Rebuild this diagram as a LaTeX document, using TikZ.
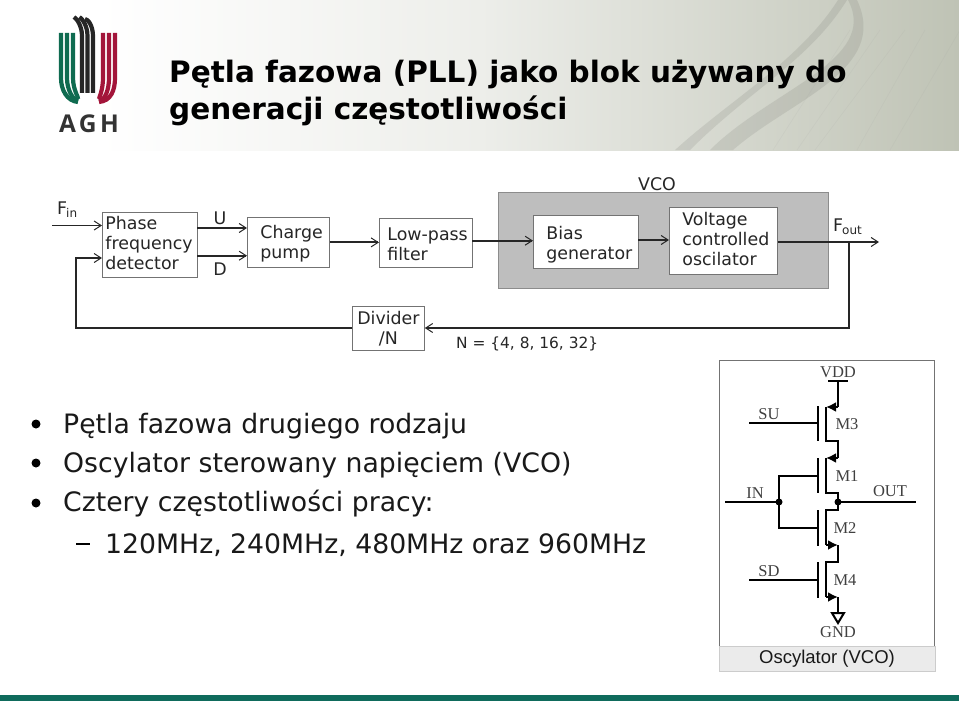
\documentclass[tikz,border=0pt]{standalone}
\usepackage{xcolor}
\usepackage{fontspec}
\usepackage{tikz}
\usetikzlibrary{arrows.meta}
\setmainfont{DejaVu Sans}
\newfontfamily\capfont{Liberation Sans}
\newfontfamily\serfont{Liberation Serif}
\newfontfamily\aghfont[LetterSpace=14]{Open Sans}
\hyphenpenalty=10000
\definecolor{aghgreen}{HTML}{0F6B50}
\definecolor{aghred}{HTML}{A3153A}
\definecolor{barteal}{HTML}{0F6B5C}
\definecolor{vcogray}{HTML}{BEBEBE}
\definecolor{hdrmid}{HTML}{EDEEEA}
\definecolor{hdrend}{HTML}{BFC3B5}
\newcommand{\lowtxt}[1]{\raisebox{-3pt}{\fontsize{12}{12}\selectfont #1}}
\newcommand{\pushdown}[1]{\rule{0pt}{#1pt}}
\newcommand{\pushup}[1]{\rule[-#1pt]{0pt}{#1pt}}

\begin{document}
\begin{tikzpicture}[x=1pt,y=-1pt,
	blockbox/.style={draw=black!55,fill=white,line width=0.8pt,align=left,anchor=north west,inner ysep=0pt,font=\fontsize{17.4}{20}\selectfont,text=black!85},
	blocktxt/.style={font=\fontsize{17.4}{20}\selectfont,text=black!85,inner sep=0pt},
	sigwire/.style={line width=1.9pt,black!85},
	sigarrow/.style={sigwire,-{Straight Barb[length=7pt,width=9pt,line width=1pt]}},
	bodytxt/.style={anchor=base west,inner sep=0pt,font=\fontsize{26.7}{30}\selectfont,text=black!90},
	bulletdot/.style={circle,fill=black,inner sep=0pt,minimum size=9pt},
	mospart/.style={line width=2pt,black},
	mosarrow/.style={mospart,-{Latex[length=10pt,width=10pt]}},
	circtxt/.style={inner sep=0pt,font=\serfont\fontsize{16.5}{16.5}\selectfont,text=black!75},
	logostripe/.style={line width=4.2pt}]
	\useasboundingbox (0,0) rectangle (959,701);
	% header
	\shade [left color=white,right color=hdrmid] (100,0) rectangle (480,150);
	\shade [left color=hdrmid,right color=hdrend] (480,0) rectangle (959,150);
	\fill [black!50!hdrend,opacity=.14] (690,150) .. controls (750,90) and (810,60) .. (847,0) -- (838,0) .. controls (800,60) and (730,100) .. (675,150) -- cycle;
	\fill [black!50!hdrend,opacity=.14] (733,150) .. controls (790,100) and (890,70) .. (857,0) -- (848,0) .. controls (880,60) and (770,90) .. (710,150) -- cycle;
	\foreach \xa/\xb in {773/850,797/880,815/905,857/925,890/960}
		\draw [black!40,opacity=.1,line width=0.6pt] (\xa,150) -- (\xb,30);
	\fill [barteal] (0,695) rectangle (959,701);
	\node (title) [anchor=base west,inner sep=0pt,align=left,font=\bfseries\fontsize{29.5}{37}\selectfont] at (169,119) {Pętla fazowa (PLL) jako blok używany do\\generacji częstotliwości};
	% logo
	\foreach \xa/\yb in {61/102,67/101,73/99}
		\draw [aghgreen,logostripe] (\xa,33) -- (\xa,78) .. controls (\xa,90) and (\xa+6,\yb-1) .. (78,\yb);
	\foreach \xa/\yb in {115/102,109/101,103/99}
		\draw [aghred,logostripe] (\xa,33) -- (\xa,78) .. controls (\xa,90) and (\xa-4,\yb-1) .. (99,\yb);
	\foreach \xa/\ya in {82/17,87.5/17,93/19}
		\draw [black!85,logostripe] (\xa,93) -- (\xa,36) .. controls (\xa,26) and (\xa-5,19) .. (\xa-8,\ya);
	\node (agh) [inner sep=0pt,text=black!80,font=\aghfont\bfseries\fontsize{24.5}{24.5}\selectfont] at (89,124) {AGH};
	% blocks
	\fill [vcogray,draw=black!45] (498,192) rectangle (828,288);
	\node (vcolab) [blocktxt] at (657,184) {VCO};
	\node (pfd) [blockbox,inner xsep=3pt,text width=89pt,minimum height=65pt] at (102,212) {Phase\\frequency\\detector\pushup{4}};
	\node (pump) [blockbox,inner xsep=13pt,text width=56pt,minimum height=50pt] at (247,217) {\pushdown{15}Charge\\pump};
	\node (lpf) [blockbox,inner xsep=8pt,text width=77pt,minimum height=49pt] at (379,218) {\pushdown{16}\mbox{Low-pass}\\filter};
	\node (bias) [blockbox,inner xsep=13pt,text width=79pt,minimum height=53pt] at (533,215) {\pushdown{19}Bias\\generator};
	\node (osc) [blockbox,inner xsep=13pt,text width=82pt,minimum height=67pt] at (669,207) {Voltage\\controlled\\oscilator\pushup{4}};
	\node (divider) [blockbox,align=center,inner xsep=2pt,text width=68pt,minimum height=44pt] at (352,306) {Divider\\/N};
	\node (nset) [blocktxt,font=\fontsize{15.4}{15.4}\selectfont,anchor=west] at (456,344) {N = \{4, 8, 16, 32\}};
	\node (fin) [blocktxt,anchor=west] at (57,210) {F\kern-1pt\lowtxt{in}};
	\node (fout) [blocktxt,anchor=west] at (833,227) {F\kern-1pt\lowtxt{out}};
	\node (ulab) [blocktxt] at (220,218) {U};
	\node (dlab) [blocktxt] at (220,269) {D};
	\coordinate (finstart) at (52,225.5);
	\coordinate (fbcorner) at (76,328);
	\coordinate (outend) at (879,242);
	\coordinate (tap) at (849,242);
	\draw [sigarrow] (finstart) -- (finstart -| pfd.west);
	\draw [sigarrow] (divider.west |- fbcorner) -- (fbcorner) -- (76,258) -- (102,258);
	\draw [sigarrow] (197,228) -- (247,228);
	\draw [sigarrow] (197,255.7) -- (247,255.7);
	\draw [sigarrow] (pump.east) -- (lpf.west |- pump.east);
	\draw [sigarrow] (472,240.7) -- (533,240.7);
	\draw [sigarrow] (638,240) -- (669,240);
	\draw [sigarrow] (osc.east |- outend) -- (outend);
	\draw [sigarrow] (tap) -- (tap |- fbcorner) -- (divider.east |- fbcorner);
	% bullets
	\node (dota) [bulletdot] at (36,424) {};
	\node (dotb) [bulletdot] at (36,463) {};
	\node (dotc) [bulletdot] at (36,503) {};
	\node (linea) [bodytxt] at (63,433) {Pętla fazowa drugiego rodzaju};
	\node (lineb) [bodytxt] at (63,472) {Oscylator sterowany napięciem (VCO)};
	\node (linec) [bodytxt] at (63,511) {Cztery częstotliwości pracy:};
	\node (lined) [bodytxt] at (105,553) {120MHz, 240MHz, 480MHz oraz 960MHz};
	\draw [black,line width=1.8pt] (76,544) -- (90,544);
	% oscillator picture
	\draw [black!55,fill=white,line width=1pt] (719,360) rectangle (934,646);
	\node (caption) [draw=black!20,fill=black!8,minimum width=216pt,minimum height=25pt,inner sep=0pt,font=\capfont\fontsize{18.5}{18.5}\selectfont,text=black!90] at (827,658.5) {Oscylator (VCO)};
	\draw [mospart] (828,381) -- (848,381);
	\draw [mospart] (838,381) -- (838,407);
	\draw [mosarrow] (838,407) -- (826,407);
	\draw [mospart] (826,407) -- (826,441) -- (838,441) -- (838,458);
	\draw [mosarrow] (838,458) -- (826,458);
	\draw [mospart] (826,458) -- (826,493) -- (838,493) -- (838,510) -- (826,510) -- (826,545);
	\draw [mosarrow] (826,545) -- (838,545);
	\draw [mospart] (838,545) -- (838,562) -- (826,562) -- (826,597);
	\draw [mosarrow] (826,597) -- (838,597);
	\draw [mospart] (838,597) -- (838,613);
	\draw [mospart,fill=white] (832,613) -- (844,613) -- (838,623) -- cycle;
	\foreach \ya/\yb in {406/441,458/493,510/546,562/598}
		\draw [mospart] (818,\ya) -- (818,\yb);
	\draw [mospart] (749,423) -- (818,423);
	\draw [mospart] (749,580) -- (818,580);
	\draw [mospart] (818,476) -- (779,476) -- (779,528) -- (818,528);
	\draw [mospart] (725,502) -- (779,502);
	\draw [mospart] (838,502) -- (916,502);
	\fill (779,502) circle (3.5);
	\fill (838,502) circle (3.5);
	\node (vdd) [circtxt] at (838,372) {VDD};
	\node (gnd) [circtxt] at (838,632) {GND};
	\node (sulab) [circtxt] at (769,414) {SU};
	\node (sdlab) [circtxt] at (769,571) {SD};
	\node (inlab) [circtxt] at (755,493) {IN};
	\node (outlab) [circtxt] at (890,491) {OUT};
	\node (mthree) [circtxt] at (847,424) {M3};
	\node (mone) [circtxt] at (847,476) {M1};
	\node (mtwo) [circtxt] at (845,528) {M2};
	\node (mfour) [circtxt] at (845,580) {M4};
\end{tikzpicture}
\end{document}
